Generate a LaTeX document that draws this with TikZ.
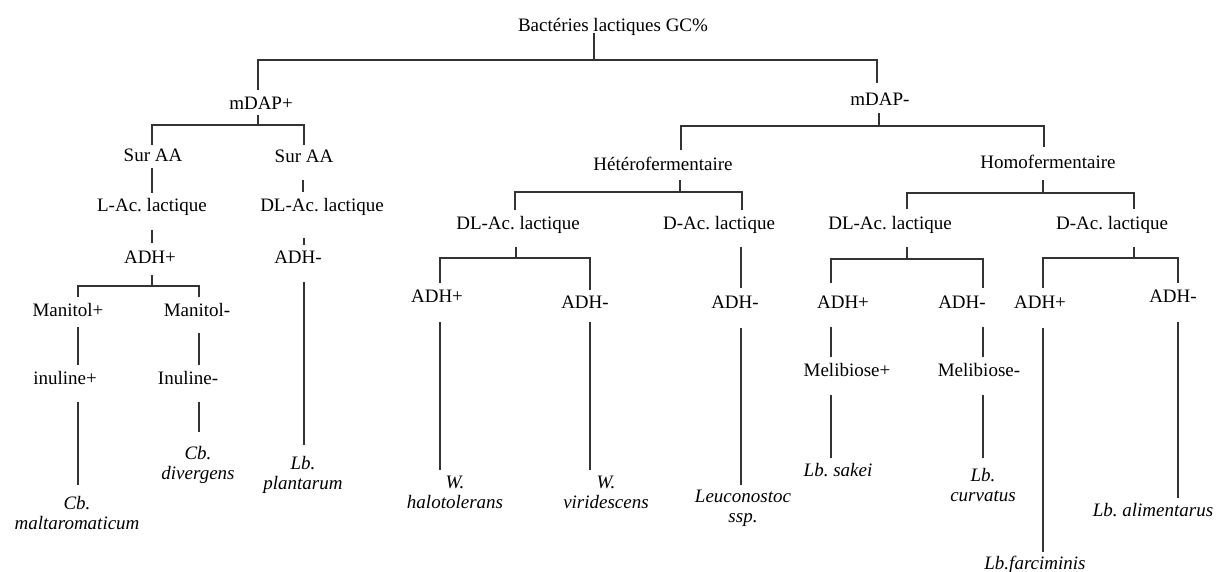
\documentclass[tikz,border=0pt]{standalone}
\usepackage{fontspec}
\setmainfont{Liberation Serif}
\frenchspacing
\begin{document}
\begin{tikzpicture}[x=1pt,y=-1pt,
  lbl/.style={anchor=north,inner sep=0pt,font=\fontsize{19}{20}\selectfont,align=center},
  spec/.style={lbl,font=\fontsize{19}{20}\selectfont\itshape},
  ln/.style={draw=black!80,line width=1.3pt}]
\useasboundingbox (0,0) rectangle (1224,572);
% ---- nodes ----
\node[lbl] (root) at (613,18) {Bactéries lactiques GC\%};
\node[lbl] (mdapp) at (261,97) {mDAP+};
\node[lbl] (mdapm) at (880,93) {mDAP-};
\node[lbl] (sur1) at (153,149) {Sur AA};
\node[lbl] (sur2) at (304,150) {Sur AA};
\node[lbl] (lac1) at (152,198) {L-Ac. lactique};
\node[lbl] (lac2) at (322,198) {DL-Ac. lactique};
\node[lbl] (adh1) at (150,251) {ADH+};
\node[lbl] (adh2) at (298,251) {ADH-};
\node[lbl] (man1) at (68,303) {Manitol+};
\node[lbl] (man2) at (197,303) {Manitol-};
\node[lbl] (inu1) at (65,371) {inuline+};
\node[lbl] (inu2) at (188,371) {Inuline-};
\node[spec] (malt) at (77,496) {Cb.\\maltaromaticum};
\node[spec] (div) at (198,446) {Cb.\\divergens};
\node[spec] (plan) at (303,456) {Lb.\\plantarum};
\node[lbl] (het) at (663,157) {Hétérofermentaire};
\node[lbl] (hom) at (1048,155) {Homofermentaire};
\node[lbl] (hdl) at (518,216) {DL-Ac. lactique};
\node[lbl] (hd) at (719,216) {D-Ac. lactique};
\node[lbl] (hadhp) at (437,290) {ADH+};
\node[lbl] (hadhm) at (585,296) {ADH-};
\node[lbl] (hdadh) at (735,296) {ADH-};
\node[spec] (halo) at (455,476) {W.\\halotolerans};
\node[spec] (viri) at (606,476) {W.\\viridescens};
\node[spec] (leuc) at (743,490) {Leuconostoc\\ssp.};
\node[lbl] (odl) at (890,216) {DL-Ac. lactique};
\node[lbl] (od) at (1112,216) {D-Ac. lactique};
\node[lbl] (oadha) at (843,296) {ADH+};
\node[lbl] (oadhb) at (962,296) {ADH-};
\node[lbl] (oadhc) at (1040,296) {ADH+};
\node[lbl] (oadhd) at (1173,290) {ADH-};
\node[lbl] (mela) at (847,363) {Melibiose+};
\node[lbl] (melb) at (979,363) {Melibiose-};
\node[spec] (sakei) at (838,463) {Lb. sakei};
\node[spec] (curv) at (983,468) {Lb.\\curvatus};
\node[spec] (farc) at (1035,556) {Lb.farciminis};
\node[spec] (alim) at (1153,503) {Lb. alimentarus};
% ---- coordinates of connector ends ----
\coordinate (root-t) at (594,33);  \coordinate (root-b) at (594,60);
\coordinate (mdapp-t) at (258,90); \coordinate (mdapm-t) at (877,83);
\coordinate (mdapp-s) at (258,115); \coordinate (mdapp-b) at (258,125);
\coordinate (sur1-t) at (152,145); \coordinate (sur2-t) at (304,145);
\coordinate (mdapm-s) at (879,113); \coordinate (mdapm-b) at (879,126);
\coordinate (het-t) at (681,150); \coordinate (hom-t) at (1044,147);
\coordinate (sur1-s) at (152,168); \coordinate (lac1-t) at (152,193);
\coordinate (sur2-s) at (303,180); \coordinate (lac2-t) at (303,192);
\coordinate (lac1-s) at (152,230); \coordinate (adh1-t) at (152,243);
\coordinate (lac2-s) at (304,238); \coordinate (adh2-t) at (304,245);
\coordinate (adh1-s) at (152,275); \coordinate (adh1-b) at (152,286);
\coordinate (man1-t) at (78,297); \coordinate (man2-t) at (199,297);
\coordinate (man1-s) at (78,327); \coordinate (inu1-t) at (78,365);
\coordinate (man2-s) at (199,333); \coordinate (inu2-t) at (199,365);
\coordinate (inu1-s) at (78,402); \coordinate (malt-t) at (78,485);
\coordinate (inu2-s) at (199,402); \coordinate (div-t) at (199,432);
\coordinate (adh2-s) at (304,282); \coordinate (plan-t) at (304,445);
\coordinate (het-s) at (680,180); \coordinate (het-b) at (680,192);
\coordinate (hdl-t) at (515,210); \coordinate (hd-t) at (742,210);
\coordinate (hom-s) at (1043,180); \coordinate (hom-b) at (1043,193);
\coordinate (odl-t) at (907,209); \coordinate (od-t) at (1134,209);
\coordinate (hdl-s) at (516,247); \coordinate (hdl-b) at (516,258);
\coordinate (hadhp-t) at (440,283); \coordinate (hadhm-t) at (590,290);
\coordinate (hd-s) at (741,247); \coordinate (hdadh-t) at (741,288);
\coordinate (hadhp-s) at (440,322); \coordinate (halo-t) at (440,470);
\coordinate (hadhm-s) at (590,322); \coordinate (viri-t) at (590,470);
\coordinate (hdadh-s) at (741,328); \coordinate (leuc-t) at (741,485);
\coordinate (odl-s) at (907,247); \coordinate (odl-b) at (907,259);
\coordinate (oadha-t) at (831,283); \coordinate (oadhb-t) at (983,288);
\coordinate (od-s) at (1134,247); \coordinate (od-b) at (1134,258);
\coordinate (oadhc-t) at (1043,288); \coordinate (oadhd-t) at (1178,283);
\coordinate (oadha-s) at (831,327); \coordinate (mela-t) at (831,357);
\coordinate (oadhb-s) at (983,327); \coordinate (melb-t) at (983,357);
\coordinate (mela-s) at (831,395); \coordinate (sakei-t) at (831,458);
\coordinate (melb-s) at (983,395); \coordinate (curv-t) at (983,458);
\coordinate (oadhc-s) at (1043,328); \coordinate (farc-t) at (1043,552);
\coordinate (oadhd-s) at (1178,322); \coordinate (alim-t) at (1178,498);
% ---- connectors ----
\draw[ln] (root-t) -- (root-b);
\draw[ln] (mdapp-t) |- (root-b) -| (mdapm-t);
\draw[ln] (mdapp-s) -- (mdapp-b);
\draw[ln] (sur1-t) |- (mdapp-b) -| (sur2-t);
\draw[ln] (mdapm-s) -- (mdapm-b);
\draw[ln] (het-t) |- (mdapm-b) -| (hom-t);
\draw[ln] (sur1-s) -- (lac1-t);
\draw[ln] (sur2-s) -- (lac2-t);
\draw[ln] (lac1-s) -- (adh1-t);
\draw[ln] (lac2-s) -- (adh2-t);
\draw[ln] (adh1-s) -- (adh1-b);
\draw[ln] (man1-t) |- (adh1-b) -| (man2-t);
\draw[ln] (man1-s) -- (inu1-t);
\draw[ln] (man2-s) -- (inu2-t);
\draw[ln] (inu1-s) -- (malt-t);
\draw[ln] (inu2-s) -- (div-t);
\draw[ln] (adh2-s) -- (plan-t);
\draw[ln] (het-s) -- (het-b);
\draw[ln] (hdl-t) |- (het-b) -| (hd-t);
\draw[ln] (hom-s) -- (hom-b);
\draw[ln] (odl-t) |- (hom-b) -| (od-t);
\draw[ln] (hdl-s) -- (hdl-b);
\draw[ln] (hadhp-t) |- (hdl-b) -| (hadhm-t);
\draw[ln] (hd-s) -- (hdadh-t);
\draw[ln] (hadhp-s) -- (halo-t);
\draw[ln] (hadhm-s) -- (viri-t);
\draw[ln] (hdadh-s) -- (leuc-t);
\draw[ln] (odl-s) -- (odl-b);
\draw[ln] (oadha-t) |- (odl-b) -| (oadhb-t);
\draw[ln] (od-s) -- (od-b);
\draw[ln] (oadhc-t) |- (od-b) -| (oadhd-t);
\draw[ln] (oadha-s) -- (mela-t);
\draw[ln] (oadhb-s) -- (melb-t);
\draw[ln] (mela-s) -- (sakei-t);
\draw[ln] (melb-s) -- (curv-t);
\draw[ln] (oadhc-s) -- (farc-t);
\draw[ln] (oadhd-s) -- (alim-t);
\end{tikzpicture}
\end{document}
